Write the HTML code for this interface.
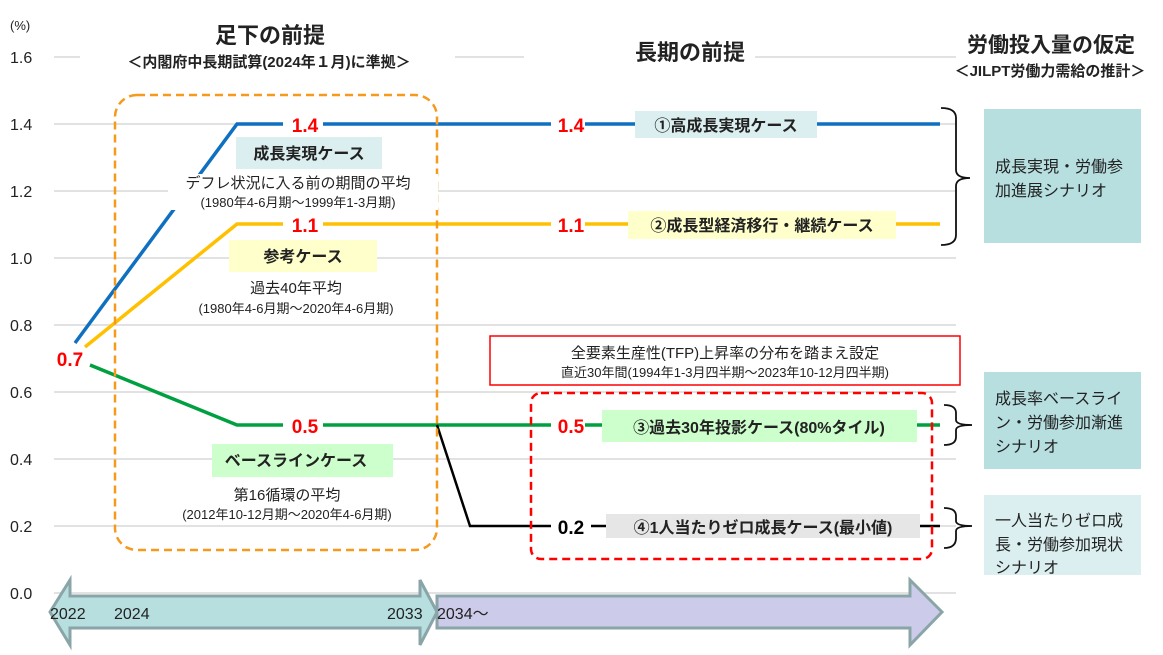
<!DOCTYPE html>
<html><head><meta charset="utf-8"><style>
html,body{margin:0;padding:0;background:#fff;}
svg{display:block;font-family:"Liberation Sans","Noto Sans CJK JP",sans-serif;}
</style></head><body>
<svg width="1163" height="655" viewBox="0 0 1163 655" xmlns="http://www.w3.org/2000/svg">
<g stroke="#d9d9d9" stroke-width="1.5">
<line x1="54" y1="57" x2="80" y2="57"/><line x1="455" y1="57" x2="524" y2="57"/><line x1="755" y1="57" x2="956" y2="57"/>
<line x1="54" y1="124" x2="956" y2="124"/><line x1="54" y1="191" x2="956" y2="191"/>
<line x1="54" y1="258" x2="956" y2="258"/><line x1="54" y1="325" x2="956" y2="325"/>
<line x1="54" y1="392" x2="956" y2="392"/><line x1="54" y1="459" x2="956" y2="459"/>
<line x1="54" y1="526" x2="956" y2="526"/><line x1="54" y1="593" x2="956" y2="593"/>
</g>
<g font-size="16" fill="#222">
<text x="10" y="30" font-size="13">(%)</text>
<text x="10" y="63">1.6</text><text x="10" y="130">1.4</text><text x="10" y="197">1.2</text>
<text x="10" y="264">1.0</text><text x="10" y="331">0.8</text><text x="10" y="398">0.6</text>
<text x="10" y="465">0.4</text><text x="10" y="532">0.2</text><text x="10" y="599">0.0</text>
</g>
<text x="270" y="43" font-size="22" font-weight="bold" text-anchor="middle" fill="#222">足下の前提</text>
<text x="269" y="67" font-size="15" font-weight="bold" text-anchor="middle" fill="#222">＜内閣府中長期試算(2024年１月)に準拠＞</text>
<text x="690" y="60" font-size="22" font-weight="bold" text-anchor="middle" fill="#222">長期の前提</text>
<text x="1051" y="52" font-size="21" font-weight="bold" text-anchor="middle" fill="#222">労働投入量の仮定</text>
<text x="1050" y="76" font-size="15" font-weight="bold" text-anchor="middle" fill="#222">＜JILPT労働力需給の推計＞</text>
<polygon points="50,612 70,580 70,596 420,596 420,580 437,612 420,645 420,628 70,628 70,645" fill="#b7dfe0" stroke="#8aa5a8" stroke-width="3"/>
<polygon points="437,596 910,596 910,580 942,612 910,645 910,628 437,628" fill="#cccbea" stroke="#8aa5a8" stroke-width="3"/>
<g font-size="16" fill="#222"><text x="50" y="619">2022</text><text x="114" y="619">2024</text><text x="387" y="619">2033</text><text x="437" y="619">2034～</text></g>
<polyline points="75,343 237,124 940,124" fill="none" stroke="#0f6fc0" stroke-width="3.5"/>
<polyline points="85,347 237,224 940,224" fill="none" stroke="#ffc000" stroke-width="3.5"/>
<polyline points="90,365 237,425 940,425" fill="none" stroke="#00a040" stroke-width="3.5"/>
<polyline points="437,425 470,526 940,526" fill="none" stroke="#000" stroke-width="2.5"/>
<rect x="115" y="95" width="322" height="455" rx="22" fill="none" stroke="#f59a1c" stroke-width="2.5" stroke-dasharray="8,5"/>
<rect x="531" y="393" width="401" height="166" rx="10" fill="none" stroke="#f00" stroke-width="2.5" stroke-dasharray="8,5"/>
<rect x="490" y="336" width="470" height="49" fill="#fff" stroke="#f00" stroke-width="1.5"/>
<text x="725" y="358" font-size="15" text-anchor="middle" fill="#222">全要素生産性(TFP)上昇率の分布を踏まえ設定</text>
<text x="725" y="377" font-size="13" text-anchor="middle" fill="#222">直近30年間(1994年1-3月四半期～2023年10-12月四半期)</text>
<g font-weight="bold" fill="#f00" font-size="19" text-anchor="middle">
<rect x="283" y="112" width="40" height="24" fill="#fff"/><text x="305" y="132">1.4</text>
<rect x="283" y="212" width="40" height="24" fill="#fff"/><text x="305" y="232">1.1</text>
<rect x="283" y="413" width="40" height="24" fill="#fff"/><text x="305" y="433">0.5</text>
<text x="70" y="366">0.7</text>
<rect x="551" y="112" width="34" height="24" fill="#fff"/><text x="571" y="132">1.4</text>
<rect x="551" y="212" width="34" height="24" fill="#fff"/><text x="571" y="232">1.1</text>
<rect x="551" y="413" width="34" height="24" fill="#fff"/><text x="571" y="433">0.5</text>
<rect x="551" y="514" width="40" height="24" fill="#fff"/><text x="571" y="534" fill="#000">0.2</text>
</g>
<rect x="236" y="137" width="146" height="32" fill="#dbeef0"/>
<text x="309" y="159" font-size="16" font-weight="bold" text-anchor="middle" fill="#222">成長実現ケース</text>
<rect x="168" y="174" width="270" height="36" fill="#fff"/>
<text x="298" y="188" font-size="15" text-anchor="middle" fill="#222">デフレ状況に入る前の期間の平均</text>
<text x="298" y="207" font-size="13" text-anchor="middle" fill="#222">(1980年4-6月期～1999年1-3月期)</text>
<rect x="229" y="240" width="148" height="32" fill="#ffffcc"/>
<text x="303" y="262" font-size="16" font-weight="bold" text-anchor="middle" fill="#222">参考ケース</text>
<text x="296" y="293" font-size="15" text-anchor="middle" fill="#222">過去40年平均</text>
<text x="296" y="313" font-size="13" text-anchor="middle" fill="#222">(1980年4-6月期～2020年4-6月期)</text>
<rect x="212" y="444" width="181" height="33" fill="#ccffcc"/>
<text x="296" y="466" font-size="16" font-weight="bold" text-anchor="middle" fill="#222">ベースラインケース</text>
<text x="287" y="500" font-size="15" text-anchor="middle" fill="#222">第16循環の平均</text>
<text x="287" y="519" font-size="13" text-anchor="middle" fill="#222">(2012年10-12月期～2020年4-6月期)</text>
<rect x="635" y="111" width="182" height="27" fill="#dbeef0"/>
<text x="726" y="131" font-size="16" font-weight="bold" text-anchor="middle" fill="#222">①高成長実現ケース</text>
<rect x="628" y="211" width="268" height="28" fill="#ffffcc"/>
<text x="762" y="231" font-size="16" font-weight="bold" text-anchor="middle" fill="#222">②成長型経済移行・継続ケース</text>
<rect x="602" y="410" width="315" height="32" fill="#ccffcc"/>
<text x="759" y="433" font-size="16" font-weight="bold" text-anchor="middle" fill="#222">③過去30年投影ケース(80%タイル)</text>
<rect x="606" y="514" width="314" height="24" fill="#e6e6e6"/>
<text x="763" y="533" font-size="16" font-weight="bold" text-anchor="middle" fill="#222">④1人当たりゼロ成長ケース(最小値)</text>
<g fill="none" stroke="#111" stroke-width="1.8">
<path d="M941,108 Q956,108 956,118 L956,170 Q956,178 970,178 Q956,178 956,186 L956,235 Q956,245 941,245"/>
<path d="M944,405 Q956,405 956,413 L956,420 Q956,425 972,425 Q956,425 956,430 L956,437 Q956,445 944,445"/>
<path d="M944,508 Q956,508 956,516 L956,521 Q956,526 972,526 Q956,526 956,531 L956,538 Q956,548 944,548"/>
</g>
<rect x="984" y="109" width="157" height="134" fill="#b7dfe0"/>
<rect x="984" y="372" width="157" height="97" fill="#b7dfe0"/>
<rect x="984" y="495" width="157" height="80" fill="#dbeef0"/>
<g font-size="16" fill="#222">
<text x="995" y="172">成長実現・労働参</text><text x="995" y="196">加進展シナリオ</text>
<text x="995" y="404">成長率ベースライ</text><text x="995" y="428">ン・労働参加漸進</text><text x="995" y="452">シナリオ</text>
<text x="995" y="526">一人当たりゼロ成</text><text x="995" y="550">長・労働参加現状</text><text x="995" y="573">シナリオ</text>
</g>
</svg>
</body></html>
